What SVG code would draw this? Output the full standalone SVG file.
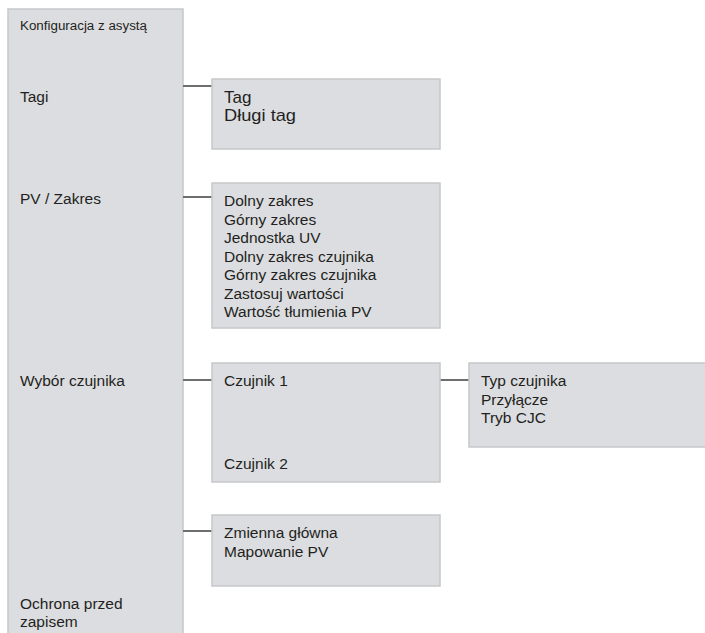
<svg xmlns="http://www.w3.org/2000/svg" width="705" height="633" viewBox="0 0 705 633">
<style>
.box{fill:#dcdde0;stroke:#c6c7c9;stroke-width:1.5}
.t{font-family:"Liberation Sans",Arial,sans-serif;font-size:15.5px;fill:#231f20}
.c{stroke:#6d6e70;stroke-width:2;fill:none}
</style>
<rect width="705" height="633" fill="#ffffff"/>
<g id="main">
<rect class="box" x="8" y="9" width="175" height="630"/>
<text class="t" x="20" y="30" style="font-size:12.5px" textLength="127" lengthAdjust="spacingAndGlyphs">Konfiguracja z asystą</text>
<text class="t" x="20" y="102">Tagi</text>
<text class="t" x="20" y="204">PV / Zakres</text>
<text class="t" x="20" y="386">Wybór czujnika</text>
<text class="t" x="20" y="609">Ochrona przed</text>
<text class="t" x="20" y="627">zapisem</text>
</g>
<g id="connectors">
<line class="c" x1="183" y1="86" x2="212" y2="86"/>
<line class="c" x1="183" y1="197" x2="212" y2="197"/>
<line class="c" x1="183" y1="380" x2="212" y2="380"/>
<line class="c" x1="440" y1="380" x2="469" y2="380"/>
<line class="c" x1="183" y1="531" x2="212" y2="531"/>
</g>
<g id="tagi">
<rect class="box" x="212" y="79" width="228" height="70"/>
<text class="t" x="224" y="103" style="font-size:17px">Tag</text>
<text class="t" x="224" y="121" style="font-size:17px" textLength="72" lengthAdjust="spacingAndGlyphs">Długi tag</text>
</g>
<g id="pv">
<rect class="box" x="212" y="183" width="228" height="145"/>
<text class="t" x="224" y="206">Dolny zakres</text>
<text class="t" x="224" y="224.5">Górny zakres</text>
<text class="t" x="224" y="243">Jednostka UV</text>
<text class="t" x="224" y="261.5">Dolny zakres czujnika</text>
<text class="t" x="224" y="280">Górny zakres czujnika</text>
<text class="t" x="224" y="298.5">Zastosuj wartości</text>
<text class="t" x="224" y="317">Wartość tłumienia PV</text>
</g>
<g id="czujnik">
<rect class="box" x="212" y="363" width="228" height="119"/>
<text class="t" x="224" y="386">Czujnik 1</text>
<text class="t" x="224" y="469">Czujnik 2</text>
</g>
<g id="typ">
<rect class="box" x="469" y="363" width="240" height="84"/>
<text class="t" x="481" y="386">Typ czujnika</text>
<text class="t" x="481" y="404.5">Przyłącze</text>
<text class="t" x="481" y="423">Tryb CJC</text>
</g>
<g id="zmienna">
<rect class="box" x="212" y="515" width="228" height="71"/>
<text class="t" x="224" y="538">Zmienna główna</text>
<text class="t" x="224" y="556.5">Mapowanie PV</text>
</g>
</svg>
